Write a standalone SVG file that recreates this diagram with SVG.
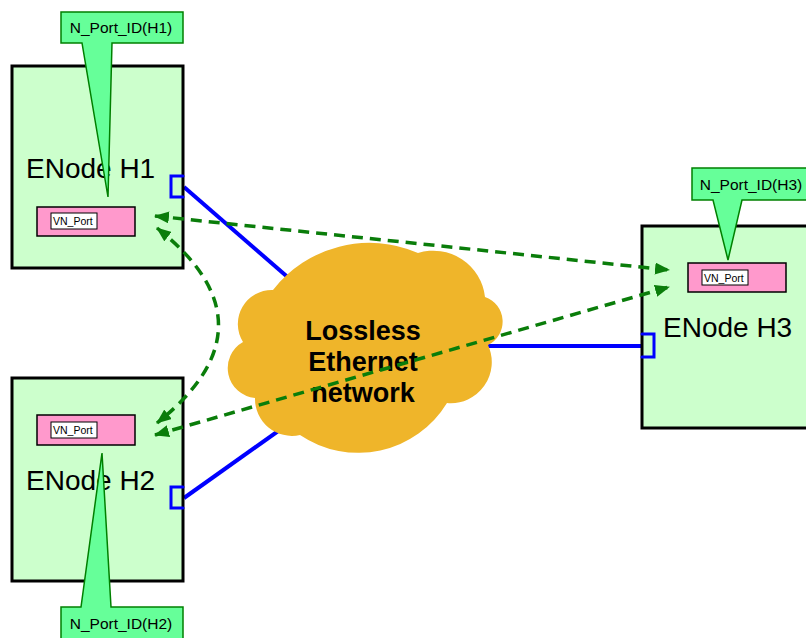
<svg xmlns="http://www.w3.org/2000/svg" width="806" height="638" viewBox="0 0 806 638">
<style>
.box{fill:#ccffcc;stroke:#000;stroke-width:3}
.vn{fill:#ff99cc;stroke:#000;stroke-width:1.5}
.vnl{fill:#fff;stroke:#000;stroke-width:1}
.vnt{font-family:"Liberation Sans",Arial,sans-serif;font-size:10.5px;fill:#000}
.title{font-family:"Liberation Sans",Arial,sans-serif;font-size:28px;fill:#000}
.call{fill:#66ff99;stroke:#008000;stroke-width:1.5}
.callt{font-family:"Liberation Sans",Arial,sans-serif;font-size:15.5px;fill:#000;text-anchor:middle}
.link{stroke:#0000ff;stroke-width:4;fill:none}
.port{stroke:#0000ff;stroke-width:3;fill:none;stroke-linecap:round}
.dash{stroke:#0a7d0a;stroke-width:3.5;fill:none;stroke-dasharray:11 7;marker-start:url(#ah);marker-end:url(#ah)}
.cloudt{font-family:"Liberation Sans",Arial,sans-serif;font-size:27px;font-weight:bold;fill:#000;text-anchor:middle}
</style>
<defs>
<marker id="ah" markerUnits="userSpaceOnUse" markerWidth="15" markerHeight="12" refX="14" refY="6" orient="auto-start-reverse" viewBox="0 0 15 12">
<path d="M0,0 L15,6 L0,12 Z" fill="#0a7d0a"/>
</marker>
</defs>
<rect width="806" height="638" fill="#fff"/>
<g id="links">
<line class="link" x1="184" y1="187" x2="360" y2="340"/>
<line class="link" x1="184" y1="498" x2="350" y2="380"/>
<line class="link" x1="400" y1="346" x2="642" y2="346"/>
</g>
<g id="cloud">
<path d="M243,342 A34,34 0 0 1 273,290 A122,122 0 0 1 418,253 A52,52 0 0 1 485,297 A26,26 0 0 1 488,345 A41,41 0 0 1 447,403 A104,104 0 0 1 300,435 A37,37 0 0 1 255,398 A30,30 0 0 1 243,342 Z" fill="#efb52a"/>
<text class="cloudt" x="363" y="340">Lossless</text>
<text class="cloudt" x="363" y="371">Ethernet</text>
<text class="cloudt" x="363" y="402">network</text>
</g>
<g id="H1">
<rect class="box" x="12" y="66" width="171" height="202"/>
<text class="title" x="26" y="178">ENode H1</text>
<rect class="vn" x="37" y="207" width="98" height="29"/>
<rect class="vnl" x="51" y="213" width="46" height="16"/>
<text class="vnt" x="53" y="225">VN_Port</text>
<path class="port" d="M183,176 H171 V197 H183"/>
</g>
<g id="H2">
<rect class="box" x="12" y="378" width="171" height="203"/>
<text class="title" x="26" y="490">ENode H2</text>
<rect class="vn" x="37" y="415" width="98" height="30"/>
<rect class="vnl" x="51" y="422" width="46" height="16"/>
<text class="vnt" x="53" y="434">VN_Port</text>
<path class="port" d="M183,487 H171 V508 H183"/>
</g>
<g id="H3">
<rect class="box" x="642" y="226" width="172" height="202"/>
<text class="title" x="663" y="337">ENode H3</text>
<rect class="vn" x="688" y="263" width="98" height="29"/>
<rect class="vnl" x="702" y="270" width="46" height="15"/>
<text class="vnt" x="704" y="282">VN_Port</text>
<path class="port" d="M642,334 H654 V357 H642"/>
</g>
<g id="callout-H1">
<path class="call" d="M61,12 H183 V43 H112 L108,197 L82,43 H61 Z"/>
<text class="callt" x="121" y="33">N_Port_ID(H1)</text>
</g>
<g id="callout-H2">
<path class="call" d="M61,607 H81 L102,453 L111,607 H183 V642 H61 Z"/>
<text class="callt" x="121" y="629">N_Port_ID(H2)</text>
</g>
<g id="callout-H3">
<path class="call" d="M692,168 H810 V200 H742 L728,260 L713,200 H692 Z"/>
<text class="callt" x="751" y="190">N_Port_ID(H3)</text>
</g>
<g id="connectors">
<line class="dash" x1="155" y1="216" x2="669" y2="270"/>
<line class="dash" x1="155" y1="435" x2="669" y2="287"/>
<path class="dash" d="M157,228 Q280,325 157,423"/>
</g>
</svg>
